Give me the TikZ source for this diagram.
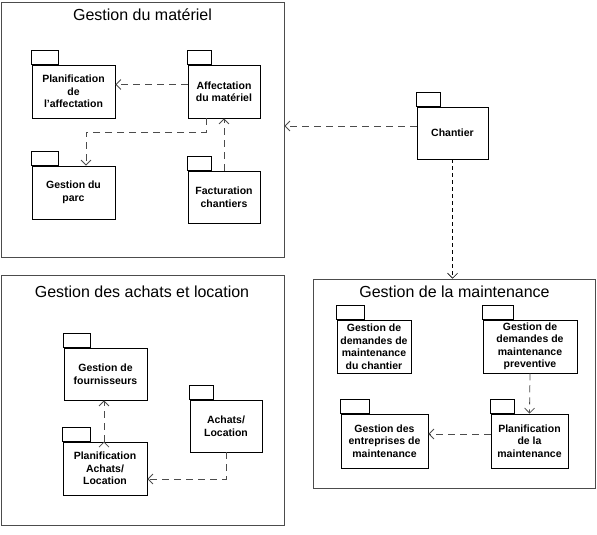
\documentclass[tikz,border=0pt]{standalone}
\usepackage{fontspec}
\setmainfont{Liberation Sans}
\usetikzlibrary{arrows.meta,positioning}

\begin{document}
\begin{tikzpicture}[x=1pt,y=-1pt,
    frame/.style={draw=black!70,line width=0.8pt,inner sep=0pt},
    title/.style={anchor=base,font=\fontsize{16}{18}\selectfont},
    pkg/.style={draw,line width=0.8pt,inner sep=1pt,align=center,
      font=\fontsize{10.5}{12.5}\selectfont\bfseries},
    tab/.style={draw,line width=0.8pt},
    dep/.style={-{Straight Barb[length=5pt,width=10pt]},draw=black!70,
      dash pattern=on 7pt off 5pt,line width=0.8pt}]
    \useasboundingbox (0,0) rectangle (597,535);
    % Gestion du materiel
    \node[frame,minimum width=283pt,minimum height=255pt] (gmat) at (142.5,129.5) {};
    \node[title] (gmattitle) at (142.5,21) {Gestion du matériel};
    \node[pkg,minimum width=83pt,minimum height=53pt] (plaff) at (73.5,91.5) {Planification\\de\\l'affectation};
    \node[pkg,minimum width=72pt,minimum height=53pt] (affmat) at (224,91.5) {Affectation\\du matériel};
    \node[pkg,minimum width=83pt,minimum height=53pt] (parc) at (73.5,192.5) {Gestion du\\parc};
    \node[pkg,minimum width=72pt,minimum height=52pt] (fact) at (224,197) {Facturation\\chantiers};
    % Chantier
    \node[pkg,minimum width=71pt,minimum height=52pt] (chantier) at (452.5,133) {Chantier};
    % Gestion des achats et location
    \node[frame,minimum width=283pt,minimum height=250pt] (gach) at (142.5,400) {};
    \node[title] (gachtitle) at (142,297) {Gestion des achats et location};
    \node[pkg,minimum width=83pt,minimum height=52pt] (fourn) at (105.5,374) {Gestion de\\fournisseurs};
    \node[pkg,minimum width=72pt,minimum height=52pt] (achats) at (226,426) {Achats/\\Location};
    \node[pkg,minimum width=84pt,minimum height=53pt] (planach) at (105,468.5) {Planification\\Achats/\\Location};
    % Gestion de la maintenance
    \node[frame,minimum width=282pt,minimum height=209pt] (gmaint) at (454,383.5) {};
    \node[title] (gmainttitle) at (454.5,297) {Gestion de la maintenance};
    \node[pkg,minimum width=74pt,minimum height=53pt] (dmchant) at (374,346.5) {Gestion de\\demandes de\\maintenance\\du chantier};
    \node[pkg,minimum width=94pt,minimum height=53pt] (dmprev) at (530,346.5) {Gestion de\\demandes de\\maintenance\\preventive};
    \node[pkg,minimum width=87pt,minimum height=54pt] (entr) at (384.5,441) {Gestion des\\entreprises de\\maintenance};
    \node[pkg,minimum width=77pt,minimum height=54pt] (planmaint) at (529.5,441) {Planification\\de la\\maintenance};
    % onglets
    \foreach \n/\w in {plaff/27,affmat/24,parc/27,fact/24,chantier/24,fourn/27,achats/24,
        planach/28,dmchant/28,dmprev/31,entr/29,planmaint/24}
      \draw[tab] (\n.north west) rectangle ++(\w,-14.5);
    % dependances
    \path[dep]
    ([yshift=7pt]affmat.west) edge ([yshift=7pt]plaff.east)
    (fact.north) edge (affmat.south)
    ([yshift=7pt]chantier.west) edge ([yshift=7pt]chantier.west -| gmat.east)
    (dmprev.south) edge (planmaint.north)
    ([yshift=7pt]planmaint.west) edge ([yshift=7pt]entr.east)
    ([xshift=-1pt]planach.north) edge ([xshift=-1.5pt]fourn.south)
    ;
    \draw[dep] ([xshift=-18pt]affmat.south) -- ++(0,14) -| ([xshift=12.5pt]parc.north);
    \draw[dep] (achats.south) |- ([yshift=-10.5pt]planach.east);
    \draw[dep,draw=black,dash pattern=on 4pt off 3pt,line width=0.6pt]
      (chantier.south) -- (chantier.south |- gmaint.north);
  \end{tikzpicture}
\end{document}
